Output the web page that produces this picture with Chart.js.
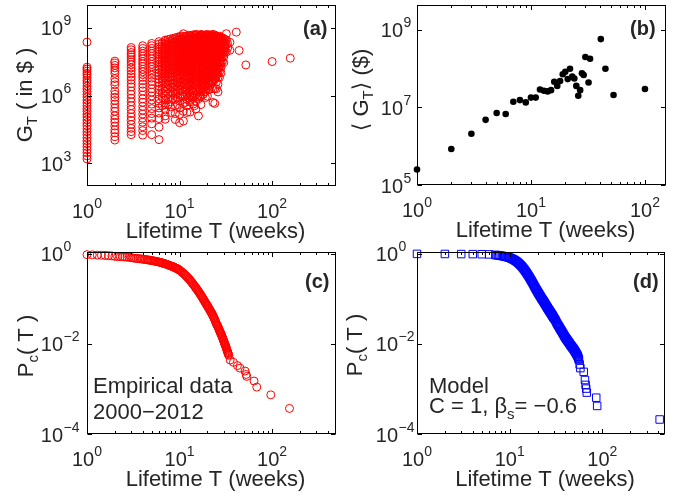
<!DOCTYPE html>
<html>
<head>
<meta charset="utf-8">
<script src="https://cdn.jsdelivr.net/npm/chart.js@4.4.0/dist/chart.umd.min.js"></script>
<style>
body { margin: 0; background: #fff; }
#wrap { position: relative; width: 679px; height: 494px; }
#wrap canvas { position: absolute; left: 0; top: 0; }
</style>
</head>
<body>
<div id="wrap">
  <canvas id="pa" width="679" height="494"></canvas>
  <canvas id="pb" width="679" height="494"></canvas>
  <canvas id="pc" width="679" height="494"></canvas>
  <canvas id="pd" width="679" height="494"></canvas>
</div>
<script>
// (a) gross per film vs lifetime: one column per lifetime, values are log10(G_T)
const lifeT = [1, 2, 3, 4, 5, 6, 7, 8, 9, 10, 11, 12, 13, 14, 15, 16, 17, 18, 19, 20,
               21, 22, 23, 24, 25, 26, 27, 28, 29, 30, 31, 32, 33, 35, 41, 44, 52, 100, 157,
               6.5, 7.5, 8.5, 9.5, 10.5, 11.5, 12.5, 13.5, 14.5, 15.5, 16.5, 17.5, 18.5, 19.5,
               20.5, 21.5, 22.5, 23.5, 24.5, 25.5, 26.5, 27.5];
const gExp = [
  [8.36, 7.25, 7.17, 7.08, 6.98, 6.9, 6.78, 6.66, 6.55, 6.42, 6.3, 6.18, 6.05, 5.93, 5.8, 5.68, 5.55, 5.42, 5.3, 5.17, 5.05, 4.92, 4.8, 4.66, 4.53, 4.4, 4.27, 4.13, 4.0, 3.87, 3.74, 3.6, 3.47, 3.33, 3.2],
  [7.52, 7.43, 7.33, 7.22, 7.1, 6.98, 6.75, 6.6, 6.47, 6.2, 6.05, 5.92, 5.78, 5.62, 5.45, 5.3, 5.1, 4.95, 4.82, 4.65, 4.48, 4.35, 4.18, 4.03],
  [8.12, 8.02, 7.9, 7.8, 7.7, 7.58, 7.48, 7.36, 7.22, 7.1, 6.95, 6.82, 6.68, 6.52, 6.38, 6.2, 6.05, 5.88, 5.72, 5.55, 5.38, 5.2, 5.05, 4.9, 4.72, 4.55, 4.4, 4.27],
  [8.2, 8.08, 7.96, 7.85, 7.74, 7.62, 7.5, 7.4, 7.28, 7.16, 7.05, 6.92, 6.8, 6.66, 6.5, 6.35, 6.2, 6.02, 5.85, 5.7, 5.52, 5.35, 5.18, 5.0, 4.82, 4.62, 4.45, 4.25],
  [8.3, 8.2, 8.08, 7.96, 7.85, 7.73, 7.62, 7.5, 7.38, 7.27, 7.15, 7.02, 6.9, 6.77, 6.62, 6.48, 6.3, 6.15, 5.98, 5.8, 5.62, 5.42, 5.2, 5.0, 4.75, 4.27],
  [8.38, 8.27, 8.15, 8.04, 7.93, 7.82, 7.7, 7.6, 7.48, 7.37, 7.25, 7.13, 7.0, 6.87, 6.72, 6.58, 6.42, 6.25, 6.05, 5.85, 5.65, 5.45, 5.22, 4.98, 4.6, 4.05],
  [8.45, 8.39, 8.28, 8.16, 8.05, 7.94, 7.83, 7.71, 7.6, 7.49, 7.37, 7.24, 7.11, 6.98, 6.85, 6.7, 6.53, 6.36, 6.19, 6.0, 5.8, 5.59, 5.36, 5.1, 4.95],
  [8.5, 8.38, 8.27, 8.16, 8.05, 7.94, 7.82, 7.7, 7.6, 7.48, 7.36, 7.24, 7.12, 6.98, 6.84, 6.68, 6.52, 6.35, 6.15, 5.95, 5.72, 5.5, 5.25],
  [8.55, 8.48, 8.37, 8.26, 8.15, 8.04, 7.93, 7.82, 7.7, 7.59, 7.47, 7.34, 7.22, 7.08, 6.95, 6.8, 6.64, 6.47, 6.28, 6.07, 5.83, 5.55, 5.2, 4.94],
  [8.6, 8.48, 8.36, 8.25, 8.14, 8.03, 7.92, 7.8, 7.7, 7.58, 7.46, 7.33, 7.2, 7.07, 6.92, 6.76, 6.6, 6.42, 6.22, 6.0, 5.75, 5.45, 5.15, 4.8],
  [8.73, 8.6, 8.49, 8.36, 8.25, 8.14, 8.03, 7.92, 7.81, 7.69, 7.57, 7.44, 7.31, 7.18, 7.05, 6.9, 6.74, 6.57, 6.38, 6.17, 5.93, 5.65, 5.3, 4.87],
  [8.62, 8.5, 8.38, 8.27, 8.16, 8.05, 7.94, 7.82, 7.7, 7.58, 7.45, 7.32, 7.18, 7.03, 6.87, 6.7, 6.5, 6.3, 6.07, 5.82, 5.55, 5.25],
  [8.65, 8.59, 8.48, 8.36, 8.25, 8.14, 8.02, 7.91, 7.79, 7.67, 7.54, 7.41, 7.27, 7.13, 6.97, 6.81, 6.62, 6.42, 6.21, 5.98, 5.72, 5.27],
  [8.68, 8.56, 8.45, 8.34, 8.22, 8.11, 8.0, 7.88, 7.76, 7.63, 7.5, 7.37, 7.23, 7.08, 6.92, 6.75, 6.55, 6.35, 6.12, 5.88, 5.62],
  [8.7, 8.64, 8.52, 8.41, 8.3, 8.19, 8.07, 7.96, 7.84, 7.72, 7.6, 7.47, 7.33, 7.18, 7.02, 6.85, 6.67, 6.48, 6.26, 6.02, 5.75, 5.4],
  [8.62, 8.5, 8.38, 8.27, 8.15, 8.04, 7.92, 7.8, 7.68, 7.55, 7.42, 7.28, 7.13, 6.97, 6.8, 6.6, 6.4, 6.15, 5.85, 5.1],
  [8.7, 8.64, 8.52, 8.4, 8.29, 8.17, 8.06, 7.94, 7.82, 7.69, 7.55, 7.41, 7.25, 7.08, 6.91, 6.72, 6.51, 6.26, 5.96, 5.6],
  [8.66, 8.54, 8.42, 8.3, 8.18, 8.06, 7.94, 7.82, 7.7, 7.57, 7.43, 7.28, 7.12, 6.95, 6.76, 6.55, 6.3, 6.05],
  [8.68, 8.62, 8.5, 8.38, 8.26, 8.14, 8.02, 7.9, 7.77, 7.64, 7.51, 7.37, 7.22, 7.05, 6.87, 6.67, 6.45, 6.18, 5.91],
  [8.7, 8.58, 8.46, 8.34, 8.22, 8.1, 7.98, 7.86, 7.73, 7.6, 7.46, 7.31, 7.15, 6.98, 6.8, 6.58, 6.35, 5.97],
  [8.66, 8.6, 8.48, 8.36, 8.24, 8.12, 8.0, 7.87, 7.74, 7.6, 7.45, 7.3, 7.13, 6.96, 6.77, 6.55, 6.28],
  [8.68, 8.56, 8.44, 8.32, 8.2, 8.07, 7.94, 7.81, 7.67, 7.52, 7.36, 7.2, 7.02, 6.83, 6.6],
  [8.7, 8.63, 8.51, 8.39, 8.27, 8.14, 8.02, 7.88, 7.75, 7.6, 7.45, 7.29, 7.1, 6.9, 6.65, 6.3, 5.69],
  [8.67, 8.55, 8.43, 8.3, 8.17, 8.04, 7.9, 7.76, 7.62, 7.46, 7.3, 7.12, 6.92, 6.7, 6.3, 5.65],
  [8.64, 8.58, 8.46, 8.33, 8.2, 8.07, 7.93, 7.79, 7.64, 7.48, 7.3, 7.09, 6.87, 6.6, 6.3],
  [8.6, 8.47, 8.34, 8.2, 8.06, 7.92, 7.78, 7.62, 7.45, 7.25, 7.05, 6.8, 6.5, 6.16],
  [8.62, 8.55, 8.41, 8.27, 8.12, 7.97, 7.82, 7.65, 7.46, 7.25, 7.05, 6.8],
  [8.58, 8.44, 8.3, 8.15, 8.0, 7.84, 7.66, 7.47, 7.25, 7.0],
  [8.55, 8.47, 8.32, 8.17, 8.02, 7.86, 7.7, 7.5],
  [8.51, 8.38, 8.22, 8.06, 7.9, 7.7, 7.45],
  [8.48, 8.3, 8.12, 7.95],
  [8.73, 8.45, 8.25, 7.92],
  [8.29, 8.1],
  [8.35, 8.0],
  [8.8],
  [7.99],
  [7.35],
  [7.5],
  [7.65],
  [8.33, 8.2, 8.09, 7.98, 7.87, 7.76, 7.65, 7.54, 7.42, 7.3, 7.19, 7.06, 6.93, 6.78, 6.64, 6.48, 6.3, 6.1, 5.9, 5.55],
  [8.47, 8.35, 8.24, 8.13, 8.02, 7.91, 7.79, 7.68, 7.57, 7.45, 7.33, 7.21, 7.08, 6.95, 6.81, 6.65, 6.48, 6.3, 6.08, 5.85, 5.6],
  [8.52, 8.41, 8.3, 8.19, 8.08, 7.97, 7.86, 7.74, 7.63, 7.51, 7.39, 7.27, 7.14, 7.0, 6.86, 6.7, 6.54, 6.36, 6.12, 5.88],
  [8.58, 8.45, 8.34, 8.23, 8.12, 8.01, 7.9, 7.78, 7.67, 7.55, 7.43, 7.3, 7.17, 7.04, 6.9, 6.74, 6.58, 6.4, 6.18, 5.92, 5.6],
  [8.63, 8.52, 8.4, 8.29, 8.18, 8.07, 7.96, 7.84, 7.72, 7.6, 7.48, 7.36, 7.23, 7.1, 6.95, 6.79, 6.62, 6.44, 6.24, 6.0],
  [8.6, 8.47, 8.35, 8.24, 8.13, 8.01, 7.9, 7.78, 7.66, 7.54, 7.41, 7.28, 7.15, 7.0, 6.85, 6.68, 6.48, 6.26, 6.0, 5.7],
  [8.66, 8.55, 8.44, 8.32, 8.21, 8.1, 7.99, 7.87, 7.75, 7.63, 7.51, 7.38, 7.24, 7.09, 6.94, 6.77, 6.58, 6.38, 6.15, 5.9],
  [8.62, 8.5, 8.39, 8.28, 8.17, 8.05, 7.94, 7.82, 7.7, 7.57, 7.44, 7.3, 7.16, 7.0, 6.84, 6.66, 6.45, 6.24, 5.95],
  [8.66, 8.54, 8.42, 8.31, 8.19, 8.08, 7.96, 7.84, 7.72, 7.59, 7.46, 7.32, 7.18, 7.02, 6.86, 6.68, 6.47, 6.25, 6.0, 5.55],
  [8.68, 8.57, 8.45, 8.33, 8.22, 8.1, 7.98, 7.86, 7.74, 7.61, 7.48, 7.34, 7.19, 7.03, 6.86, 6.68, 6.47, 6.22, 5.95],
  [8.65, 8.53, 8.41, 8.29, 8.17, 8.05, 7.93, 7.8, 7.67, 7.54, 7.4, 7.25, 7.09, 6.92, 6.74, 6.53, 6.3, 6.0],
  [8.68, 8.56, 8.44, 8.32, 8.2, 8.08, 7.96, 7.83, 7.7, 7.57, 7.43, 7.28, 7.12, 6.95, 6.77, 6.56, 6.33],
  [8.64, 8.52, 8.4, 8.28, 8.16, 8.04, 7.91, 7.78, 7.65, 7.51, 7.36, 7.2, 7.03, 6.85, 6.65, 6.42, 6.15],
  [8.66, 8.54, 8.42, 8.3, 8.18, 8.05, 7.92, 7.79, 7.66, 7.52, 7.37, 7.21, 7.04, 6.86, 6.66, 6.42],
  [8.64, 8.52, 8.4, 8.28, 8.15, 8.02, 7.89, 7.76, 7.62, 7.47, 7.31, 7.14, 6.96, 6.76, 6.53, 6.25],
  [8.62, 8.5, 8.38, 8.26, 8.13, 8.0, 7.87, 7.73, 7.59, 7.44, 7.28, 7.1, 6.91, 6.7, 6.45],
  [8.64, 8.51, 8.39, 8.26, 8.13, 8.0, 7.86, 7.72, 7.57, 7.41, 7.24, 7.05, 6.85, 6.6],
  [8.62, 8.49, 8.36, 8.23, 8.1, 7.96, 7.82, 7.67, 7.51, 7.34, 7.15, 6.95, 6.72],
  [8.6, 8.47, 8.34, 8.21, 8.07, 7.93, 7.78, 7.62, 7.45, 7.27, 7.06, 6.83],
  [8.58, 8.45, 8.32, 8.18, 8.04, 7.89, 7.73, 7.56, 7.38, 7.18, 6.95],
  [8.56, 8.42, 8.28, 8.13, 7.98, 7.82, 7.64, 7.45, 7.22],
  [8.53, 8.39, 8.24, 8.08, 7.92, 7.74, 7.54]
];

// (b) mean gross per lifetime
const meanT = [1, 2, 3, 4, 5, 6, 7, 8, 9, 10, 11, 12, 13, 14, 15, 16, 17, 18, 19, 20,
               21, 22, 23, 24, 25, 26, 27, 28, 29, 30, 32, 33, 41, 45, 53, 100];
const meanG = [2.5e5, 8.5e5, 2.1e6, 4.8e6, 7.2e6, 6.8e6, 1.4e7, 1.55e7, 1.35e7, 1.8e7,
               1.8e7, 2.9e7, 2.7e7, 2.6e7, 2.8e7, 4.6e7, 3.6e7, 4.8e7, 7.2e7, 8.3e7,
               5.4e7, 1.0e8, 6.3e7, 5.6e7, 3.6e7, 2.0e7, 2.8e7, 7.6e7, 6.9e7, 2.0e8,
               4.4e7, 1.8e8, 5.8e8, 1.0e8, 2.1e7, 3.0e7];

// (c) empirical cumulative distribution of lifetimes
const empT = [1, 1.14, 1.29, 1.43, 1.57, 1.71, 1.86, 2, 2.14, 2.29, 2.43, 2.57, 2.71, 2.86,
              3, 3.14, 3.29, 3.43, 3.57, 3.71, 3.86, 4, 4.14, 4.29, 4.43, 4.57, 4.71, 4.86,
              5, 5.14, 5.29, 5.43, 5.57, 5.71, 5.86, 6, 6.14, 6.29, 6.43, 6.57, 6.71, 6.86,
              7, 7.14, 7.29, 7.43, 7.57, 7.71, 7.86, 8, 8.14, 8.29, 8.43, 8.57, 8.71, 8.86,
              9, 9.14, 9.29, 9.43, 9.57, 9.71, 9.86,
              10, 10.25, 10.5, 10.75, 11, 11.25, 11.5, 11.75, 12, 12.25, 12.5, 12.75,
              13, 13.25, 13.5, 13.75, 14, 14.25, 14.5, 14.75, 15, 15.25, 15.5, 15.75,
              16, 16.25, 16.5, 16.75, 17, 17.25, 17.5, 17.75, 18, 18.25, 18.5, 18.75,
              19, 19.25, 19.5, 19.75, 20, 20.25, 20.5, 20.75, 21, 21.25, 21.5, 21.75,
              22, 22.25, 22.5, 22.75, 23, 23.25, 23.5, 23.75, 24, 24.25, 24.5, 24.75,
              25, 25.25, 25.5, 25.75, 26, 26.25, 26.5, 26.75, 27, 27.25, 27.5, 27.75,
              28, 28.25, 28.5, 28.75, 29, 29.25, 29.5, 29.75, 30, 30.25, 30.5, 30.75,
              31, 31.25, 31.5, 31.75, 32, 32.25, 32.5, 32.75, 33, 33.25, 33.5, 33.75, 34,
              35.2, 38.2, 42.2, 45, 51, 52.4, 53.2, 63.8, 68.3, 96.8, 154];
const empP = [0.96, 0.95, 0.94, 0.93, 0.92, 0.91, 0.90, 0.88, 0.87, 0.865, 0.86, 0.85, 0.845, 0.84,
              0.82, 0.81, 0.80, 0.793, 0.785, 0.778, 0.77, 0.763, 0.755, 0.748, 0.74, 0.733, 0.725, 0.718,
              0.71, 0.703, 0.695, 0.688, 0.68, 0.673, 0.665, 0.658, 0.65, 0.643, 0.635, 0.625, 0.615, 0.608,
              0.60, 0.593, 0.585, 0.575, 0.565, 0.558, 0.55, 0.543, 0.535, 0.528, 0.52, 0.513, 0.505, 0.498,
              0.49, 0.483, 0.475, 0.468, 0.46, 0.453, 0.445,
              0.435, 0.417, 0.40, 0.385, 0.37, 0.355, 0.34, 0.325, 0.31, 0.297, 0.285, 0.272,
              0.26, 0.247, 0.235, 0.224, 0.213, 0.203, 0.194, 0.185, 0.176, 0.168, 0.160, 0.153,
              0.146, 0.139, 0.133, 0.127, 0.121, 0.115, 0.110, 0.105, 0.100, 0.0954, 0.091, 0.0869,
              0.083, 0.0794, 0.076, 0.0729, 0.070, 0.067, 0.064, 0.0615, 0.059, 0.0565, 0.054, 0.052,
              0.050, 0.048, 0.046, 0.044, 0.042, 0.040, 0.038, 0.0365, 0.035, 0.033, 0.031, 0.0295,
              0.028, 0.027, 0.026, 0.025, 0.024, 0.023, 0.022, 0.021, 0.020, 0.019, 0.018, 0.0175,
              0.017, 0.0162, 0.0155, 0.0147, 0.014, 0.0134, 0.0128, 0.0122, 0.0117, 0.0111, 0.0106, 0.0101,
              0.0097, 0.0093, 0.0089, 0.0085, 0.0081, 0.0077, 0.0074, 0.0070, 0.0067, 0.0064, 0.0061, 0.0058, 0.0056,
              0.0044, 0.0039, 0.0033, 0.0029, 0.0025, 0.0021, 0.0019, 0.0015, 0.0011, 0.00074, 0.00037];

// (d) model cumulative distribution
const modT = [1, 2, 3, 4, 5, 6,
              7, 7.25, 7.5, 7.75, 8, 8.25, 8.5, 8.75, 9, 9.25, 9.5, 9.75,
              10, 10.25, 10.5, 10.75, 11, 11.25, 11.5, 11.75, 12, 12.25, 12.5, 12.75,
              13, 13.25, 13.5, 13.75, 14, 14.25, 14.5, 14.75, 15, 15.25, 15.5, 15.75,
              16, 16.25, 16.5, 16.75, 17, 17.25, 17.5, 17.75, 18, 18.25, 18.5, 18.75,
              19, 19.25, 19.5, 19.75, 20, 20.25, 20.5, 20.75, 21, 21.25, 21.5, 21.75,
              22, 22.25, 22.5, 22.75, 23, 23.25, 23.5, 23.75, 24, 24.25, 24.5, 24.75,
              25, 25.25, 25.5, 25.75, 26, 26.25, 26.5, 26.75, 27, 27.25, 27.5, 27.75,
              28, 28.25, 28.5, 28.75, 29, 29.25, 29.5, 29.75,
              30, 30.5, 31, 31.5, 32, 32.5, 33, 33.5, 34, 34.5, 35, 35.5, 36, 36.5, 37, 37.5,
              38, 38.5, 39, 39.5, 40, 40.5, 41, 41.5, 42, 42.5, 43, 43.5, 44, 44.5, 45, 45.5,
              46, 46.5, 47, 47.5, 48, 48.5, 49, 49.5, 50, 50.5, 51, 51.5, 52, 52.5, 53, 53.5,
              54, 54.5, 55, 55.5, 56, 57, 58, 63, 65, 66, 67, 68, 86, 88, 416];
const modP = [1.0, 0.995, 0.99, 0.986, 0.982, 0.973,
              0.946, 0.938, 0.929, 0.92, 0.912, 0.9, 0.89, 0.878, 0.867, 0.856, 0.845, 0.833,
              0.822, 0.803, 0.785, 0.767, 0.75, 0.729, 0.708, 0.688, 0.668, 0.644, 0.62, 0.597,
              0.575, 0.551, 0.528, 0.505, 0.484, 0.461, 0.439, 0.418, 0.398, 0.378, 0.359, 0.341,
              0.324, 0.308, 0.292, 0.277, 0.263, 0.25, 0.237, 0.225, 0.214, 0.203, 0.193, 0.183,
              0.174, 0.166, 0.159, 0.152, 0.145, 0.139, 0.134, 0.128, 0.123, 0.118, 0.114, 0.109,
              0.105, 0.101, 0.0978, 0.0944, 0.0912, 0.0881, 0.0851, 0.0822, 0.0794, 0.0767, 0.0741, 0.0716,
              0.0692, 0.0668, 0.0646, 0.0624, 0.0603, 0.0586, 0.0569, 0.0553, 0.0537, 0.0522, 0.0507, 0.0493,
              0.0479, 0.0465, 0.0452, 0.044, 0.0427, 0.0415, 0.0403, 0.0391,
              0.038, 0.0363, 0.0347, 0.0324, 0.0302, 0.0285, 0.0269, 0.0257, 0.0245, 0.0232, 0.0219, 0.0209, 0.0200, 0.0191, 0.0182, 0.0174,
              0.0166, 0.0158, 0.0151, 0.0144, 0.0138, 0.0133, 0.0129, 0.0124, 0.0120, 0.0116, 0.0112, 0.0108, 0.0105, 0.0101, 0.0098, 0.0094,
              0.0091, 0.0089, 0.0087, 0.0084, 0.0081, 0.0079, 0.0078, 0.0075, 0.0072, 0.0070, 0.0068, 0.0065, 0.0063, 0.0061, 0.0059, 0.0057,
              0.0055, 0.0052, 0.0050, 0.0047, 0.0044, 0.0035, 0.0029, 0.0024, 0.00158, 0.00123, 0.00102, 0.00083, 0.00064, 0.00042, 0.00021];

const xTicks = [1, 10, 100], xExp = ['0', '1', '2'];
const FAM = "'Liberation Sans', Arial, 'DejaVu Sans', sans-serif";
const TXT = '#262626';

function font(sz, bold) { return (bold ? 'bold ' : '') + sz + 'px ' + FAM; }

// draw a run of [text, size, dy, bold] pieces
function drawRich(ctx, parts, x, y, align) {
    let w = 0;
    parts.forEach(p => { ctx.font = font(p[1], p[3]); w += ctx.measureText(p[0]).width; });
    let cx = align === 'center' ? x - w / 2 : (align === 'right' ? x - w : x);
    ctx.textAlign = 'left';
    parts.forEach(p => {
        ctx.font = font(p[1], p[3]);
        ctx.fillText(p[0], cx, y + (p[2] || 0));
        cx += ctx.measureText(p[0]).width;
    });
}

const deco = {
    id: 'deco',
    afterDatasetsDraw(chart, args, o) {
        const ctx = chart.ctx, a = chart.chartArea, xs = chart.scales.x, ys = chart.scales.y;
        const L = Math.round(a.left) + 0.5, R = Math.round(a.right) - 0.5;
        const T = Math.round(a.top) + 0.5, B = Math.round(a.bottom) - 0.5;
        ctx.save();
        ctx.strokeStyle = '#000';
        ctx.lineWidth = 1;
        ctx.strokeRect(L, T, R - L, B - T);
        ctx.beginPath();
        for (let d = 1; d < xs.max; d *= 10) {
            for (let k = 2; k <= 9; k++) {
                if (d * k >= xs.max) break;
                const px = Math.round(xs.getPixelForValue(d * k)) + 0.5;
                ctx.moveTo(px, B); ctx.lineTo(px, B - 2.5);
                ctx.moveTo(px, T); ctx.lineTo(px, T + 2.5);
            }
        }
        xTicks.forEach(v => {
            const px = Math.round(xs.getPixelForValue(v)) + 0.5;
            ctx.moveTo(px, B); ctx.lineTo(px, B - 4.5);
            ctx.moveTo(px, T); ctx.lineTo(px, T + 4.5);
        });
        o.yTicks.forEach(v => {
            const py = Math.round(ys.getPixelForValue(v)) + 0.5;
            ctx.moveTo(L, py); ctx.lineTo(L + 4.5, py);
            ctx.moveTo(R, py); ctx.lineTo(R - 4.5, py);
        });
        ctx.stroke();

        ctx.fillStyle = TXT;
        ctx.textBaseline = 'alphabetic';
        // x tick labels
        xTicks.forEach((v, i) => {
            drawRich(ctx, [['10', 20, 0], [xExp[i], 14, -10]], xs.getPixelForValue(v), a.bottom + 32, 'center');
        });
        // y tick labels
        o.yTicks.forEach((v, i) => {
            const py = ys.getPixelForValue(v) + 7.5;
            ctx.font = font(20);
            ctx.textAlign = 'right';
            ctx.fillText('10', o.yLabelX, py);
            ctx.font = font(14);
            ctx.textAlign = 'left';
            ctx.fillText(o.yExp[i], o.yLabelX + 0.5, py - 10);
        });
        // axis titles
        drawRich(ctx, [['Lifetime T (weeks)', 22, 0]], (a.left + a.right) / 2 + 4, a.bottom + 52, 'center');
        ctx.save();
        ctx.translate(o.yTitleX, o.yTitleY);
        ctx.rotate(-Math.PI / 2);
        drawRich(ctx, o.yTitle, 0, 0, 'center');
        ctx.restore();
        // panel letter and notes
        drawRich(ctx, [[o.panel, 20, 0, true]], o.panelX, o.panelY, 'left');
        (o.notes || []).forEach(n => drawRich(ctx, n.parts, n.x, n.y, 'left'));
        ctx.restore();
    }
};

function makePanel(id, box, xMax, yMin, yMax, datasets, decoOpts) {
    return new Chart(document.getElementById(id), {
        type: 'scatter',
        data: { datasets },
        options: {
            responsive: false,
            animation: false,
            events: [],
            layout: { padding: { left: box.l, right: 679 - box.r, top: box.t, bottom: 494 - box.b } },
            scales: {
                x: { type: 'logarithmic', min: 1, max: xMax, display: false },
                y: { type: 'logarithmic', min: yMin, max: yMax, display: false }
            },
            plugins: { legend: { display: false }, tooltip: { enabled: false }, deco: decoOpts }
        },
        plugins: [deco]
    });
}

const ptsA = [];
lifeT.forEach((t, i) => gExp[i].forEach(e => ptsA.push({ x: t, y: Math.pow(10, e) })));
const ptsB = meanT.map((t, i) => ({ x: t, y: meanG[i] }));
const ptsC = empT.map((t, i) => ({ x: t, y: empP[i] }));
const ptsD = modT.map((t, i) => ({ x: t, y: modP[i] }));

const redRing = { pointStyle: 'circle', pointRadius: 4, borderWidth: 1, borderColor: '#ff0000', backgroundColor: 'rgba(0,0,0,0)', clip: false };

makePanel('pa', { l: 87, r: 336, t: 5, b: 186 }, 490, 1e2, 1e10,
    [Object.assign({ data: ptsA }, redRing)],
    { yTicks: [1e3, 1e6, 1e9], yExp: ['3', '6', '9'], yLabelX: 63,
      yTitle: [['G', 22, 0], ['T', 15, 5], [' ( in $ )', 22, 0]], yTitleX: 32, yTitleY: 95,
      panel: '(a)', panelX: 303, panelY: 35 });

makePanel('pb', { l: 417, r: 666, t: 5, b: 185 }, 153, 1e5, 4.4e9,
    [{ data: ptsB, pointStyle: 'circle', pointRadius: 3.3, borderWidth: 0, backgroundColor: '#000', clip: false }],
    { yTicks: [1e5, 1e7, 1e9], yExp: ['5', '7', '9'], yLabelX: 403,
      yTitle: [['\u27E8 G', 22, 0], ['T', 15, 5], ['\u27E9 ($)', 22, 0]], yTitleX: 368, yTitleY: 90,
      panel: '(b)', panelX: 630, panelY: 35 });

makePanel('pc', { l: 87, r: 336, t: 252, b: 434 }, 490, 1e-4, 1.1,
    [Object.assign({ data: ptsC }, redRing)],
    { yTicks: [1e-4, 1e-2, 1], yExp: ['\u22124', '\u22122', '0'], yLabelX: 63,
      yTitle: [['P', 22, 0], ['c', 15, 5], ['( T )', 22, 0]], yTitleX: 33, yTitleY: 346,
      panel: '(c)', panelX: 305, panelY: 288,
      notes: [{ x: 93, y: 393, parts: [['Empirical data', 22, 0]] },
              { x: 93, y: 419, parts: [['2000\u22122012', 22, 0]] }] });

makePanel('pd', { l: 417, r: 665, t: 252, b: 434 }, 475, 1e-4, 1.1,
    [{ data: ptsD, pointStyle: 'rect', pointRadius: 5.3, borderWidth: 1, borderColor: '#0000ff', backgroundColor: 'rgba(0,0,0,0)', clip: false }],
    { yTicks: [1e-4, 1e-2, 1], yExp: ['\u22124', '\u22122', '0'], yLabelX: 398,
      yTitle: [['P', 22, 0], ['c', 15, 5], ['( T )', 22, 0]], yTitleX: 362, yTitleY: 345,
      panel: '(d)', panelX: 633, panelY: 288,
      notes: [{ x: 429, y: 393, parts: [['Model', 22, 0]] },
              { x: 429, y: 413, parts: [['C = 1, \u03B2', 22, 0], ['s', 15, 6], ['= \u22120.6', 22, 0]] }] });
</script>
</body>
</html>
